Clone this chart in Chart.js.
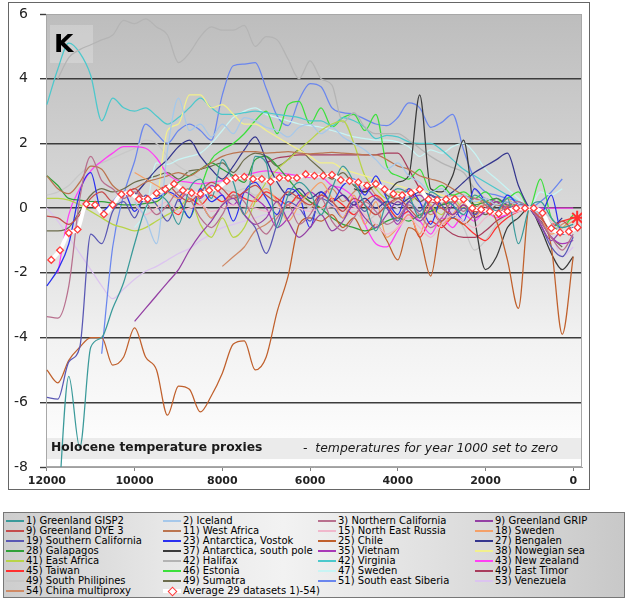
<!DOCTYPE html>
<html><head><meta charset="utf-8">
<script src="https://cdn.jsdelivr.net/npm/chart.js@4"></script>
<style>
html,body{margin:0;padding:0;background:#fff;}
#wrap{position:relative;width:628px;height:600px;font-family:"DejaVu Sans",sans-serif;overflow:hidden;}
#frame{position:absolute;left:8px;top:2px;width:580px;height:486px;border:1.5px solid #666;background:#fff;}
#c{position:absolute;left:0;top:0;}
#klabel{position:absolute;left:54px;top:29px;font:bold 25px "DejaVu Sans";color:#000;}
#cap1{position:absolute;left:51px;top:440px;font:bold 12.3px "DejaVu Sans";color:#1a1a1a;white-space:pre;}
#cap2{position:absolute;left:303px;top:440px;font:italic 12.4px "DejaVu Sans";color:#1a1a1a;white-space:pre;}
#legend{position:absolute;left:3px;top:512px;width:620px;height:84px;border:1px solid #777;
  background:linear-gradient(to right,#cdcdcd 0%,#e6e6e6 25%,#f2f2f2 45%,#dcdcdc 75%,#c8c8c8 100%);}
.lt{position:absolute;height:10px;font:10px "DejaVu Sans";line-height:10px;color:#000;white-space:nowrap;}
.sw{position:absolute;height:2px;}
.dm{position:absolute;width:5px;height:5px;background:#fff;border:1.2px solid #ff3b3b;transform:rotate(45deg);}
</style></head>
<body>
<div id="wrap">
  <div id="frame"></div>
  <canvas id="c" width="628" height="505"></canvas>
  <div id="klabel">K</div>
  <div id="cap1">Holocene temperature proxies</div>
  <div id="cap2">-  temperatures for year 1000 set to zero</div>
  <div id="legend"></div>
</div>
<script>
const _ = null;
const years = [12000,11750,11500,11250,11000,10750,10500,10250,10000,9750,9500,9250,9000,8750,8500,8250,8000,7750,7500,7250,7000,6750,6500,6250,6000,5750,5500,5250,5000,4750,4500,4250,4000,3750,3500,3250,3000,2750,2500,2250,2000,1750,1500,1250,1000,750,500,250,0];
const xTicks = [12000,10000,8000,6000,4000,2000,0];
const yTicks = [-8,-6,-4,-2,0,2,4,6];

const gisp2 = [_,-9.5,-5.2,-7.4,-4.3,-4.0,-3.1,-2.3,-1.1,0.0, 0.4,0.2,-0.5,0.6,0.9,0.3,1.5,0.8,-0.2,1.6, 1.4,-0.6,0.4,0.8,0.5,-0.2,0.6,1.3,0.8,0.1, -0.7,0.2,0.6,0.4,-0.3,0.5,0.3,0.1,-0.2,0.4, 0.2,-0.1,0.3,-1.1,0,0.2,-0.3,-0.6,-0.5];
const iceland = [_,_,_,_,_,_,_,_,0.2,-0.3, -1.1,1.8,3.4,2.4,2.6,2.2,2.6,2.3,2.8,2.7, 2.5,2.4,2.2,2.5,2.6,2.3,2.5,2.2,2.0,1.8, 1.5,1.2,1.4,1.0,0.8,0.5,0.6,0.3,0.4,0.2, 0.3,0.1,0.2,0.1,0,-0.2,-0.5,-0.7,_];
const nCal = [-3.35,-3.4,-2.4,0.3,1.6,0.85,0.6,0.3,0.5,0.2, -0.2,0.1,0.5,0.3,-0.3,-0.6,-0.2,0.4,0.2,-0.4, -0.8,-0.3,0.1,-0.5,-0.2,0.3,-0.4,-0.7,-0.3,0.2, -0.1,-0.5,-0.3,0.1,-0.2,-0.6,-0.3,0.2,-0.1,0.3, 0.1,-0.2,0.1,0.2,0,-0.4,-0.9,-1.3,-0.8];
const grip = [_,_,_,_,_,_,_,_,-3.5,-3.1, -2.7,-2.3,-1.9,-1.3,-0.8,-0.4,0.1,0.3,-0.2,-0.5, -0.3,0.2,-0.4,-0.9,-0.6,-0.2,-0.7,-0.4,0.1,-0.3, -0.6,-0.2,0.2,-0.1,-0.4,0.0,0.3,-0.2,0.1,-0.3, -0.1,0.2,0.0,0.1,0,-0.5,-1.0,-0.7,-0.9];
const dye3 = [-0.25,-0.3,-0.5,-0.2,0.3,0.5,0.2,0.4,0.6,0.3, 0.5,0.7,0.4,0.2,0.5,0.8,0.6,0.3,0.5,0.7, 0.4,0.2,0.5,0.3,0.1,0.4,0.2,-0.1,0.3,0.1, -0.2,0.1,0.3,0.0,-0.3,0.2,0.0,-0.2,0.1,-0.1, 0.0,0.2,-0.1,0.1,0,-0.3,-0.6,-0.4,-0.7];
const westAfrica = [1.0,0.6,0.45,0.8,1.3,1.2,0.7,0.5,0.6,0.8, 0.9,1.0,1.1,1.0,1.2,1.4,1.6,1.7,1.75,1.75, 1.7,1.72,1.75,1.7,1.68,1.7,1.72,1.7,1.68,1.65, 1.65,1.5,1.3,1.2,1.0,0.9,0.8,0.6,0.4,0.3, 0.2,0.1,0.05,0.02,0,_,_,_,_];
const neRussia = [_,_,_,_,_,_,_,_,0.1,-0.2, 0.0,0.2,-0.1,0.0,0.1,-0.1,0.0,0.1,0.05,0.0, -0.1,0.0,0.1,0.0,-0.1,0.0,0.05,-0.05,0.0,-0.2, -0.5,-0.8,-0.6,-0.3,-0.6,-0.9,-0.5,-0.2,-0.4,-0.6, -0.3,-0.1,-0.2,-0.1,0,-0.2,-0.4,-0.6,_];
const sweden18 = [_,_,_,_,_,_,_,_,1.1,0.9, 0.7,0.5,0.3,0.6,0.2,-0.3,0.1,0.4,-0.2,0.3, 0.6,0.2,-0.4,0.1,0.5,0.8,0.3,-0.3,0.4,-0.5, 0.2,-0.9,-0.6,-0.2,-0.8,0.1,-0.5,-0.2,0.2,-0.3, 0.1,-0.2,0.3,-0.1,0,-0.3,-0.8,-0.6,-0.4];
const sCal = [-5.85,-5.9,-4.75,-4.3,-0.8,-1.1,-0.1,0.2,-0.3,0.4, 0.1,-0.4,0.3,0.6,0.2,-0.3,0.1,0.4,-0.2,-0.6, -1.4,-0.5,0.2,0.0,-0.4,0.3,0.1,-0.3,0.2,-0.1, 0.3,0.0,-0.4,0.2,-0.1,0.4,0.1,-0.3,0.0,-0.2, 0.1,-0.1,0.2,0.0,0,-0.5,-1.2,-1.5,-0.9];
const vostok = [-2.4,-1.9,-1.1,0.5,1.1,-0.1,0.2,0.5,-0.1,0.3, 0.3,0.5,0.3,-0.3,0.6,0.2,0.4,-0.4,0.5,0.8, 0.3,-0.2,0.6,0.4,-0.6,0.5,0.2,0.7,0.9,0.4, 1.0,0.3,-0.2,0.6,0.2,-0.5,0.3,0.1,-0.4,0.6, 0.2,-0.1,0.4,0.1,0,-0.2,0.4,-0.8,-0.6];
const chile = [-5.0,-5.4,-4.7,-4.3,-4.0,-4.0,-4.85,-4.6,-3.7,-4.6, -5.0,-6.4,-5.5,-5.6,-6.3,-5.8,-5.1,-4.2,-4.1,-5.0, -4.6,-3.2,-2.1,-0.5,-0.3,-0.4,-0.2,-0.6,-0.3,-0.8, -0.5,-1.0,-1.6,-0.6,-0.9,-2.1,-0.4,-0.3,-0.5,-0.2, 0.1,-0.4,-1.6,-3.1,0,-0.2,-1.2,-3.9,-1.5];
const bengalen = [_,_,_,_,_,_,_,_,0.4,0.8, 1.2,1.5,1.9,2.1,1.6,1.2,0.9,1.3,1.8,2.2, 1.5,0.8,0.4,0.6,0.3,0.5,0.2,0.4,0.1,0.3, 0.0,0.2,0.1,0.3,0.5,0.4,0.3,0.5,0.8,1.1, 1.3,1.5,1.7,0.7,0,-0.4,-0.6,-0.3,_];
const galapagos = [1.0,0.7,0.3,0.25,0.2,0.2,0.15,0.1,0.1,0.15, 0.2,0.5,0.8,1.0,1.2,1.4,1.2,1.0,0.8,1.5, 1.6,1.3,0.9,0.5,0.2,0.0,-0.3,-0.5,-0.6,-0.7, -0.6,-0.4,-0.3,-0.4,-0.2,-0.1,0.1,0.2,0.3,0.1, 0.2,0.3,0.1,0.1,0,-0.2,-0.5,-0.8,-0.6];
const southPole = [_,_,_,_,_,_,_,_,_,_, _,_,_,_,_,_,_,_,_,_, _,_,_,_,_,_,_,_,0.6,0.5, 0.7,0.5,0.8,1.0,3.5,0.6,0.5,1.0,2.1,-0.3, -1.9,-1.5,-0.6,-0.3,0,-0.6,-1.4,-1.9,-1.5];
const vietnam = [_,_,_,_,_,_,_,_,_,_, _,_,0.2,0.5,0.3,0.7,0.4,0.1,0.5,0.3, 0.0,-0.6,-0.3,0.2,0.5,0.3,0.7,0.4,0.1,0.6, 0.3,0.0,-0.5,0.2,0.4,0.0,-0.4,0.1,0.3,-0.2, 0.0,0.3,0.1,-0.1,0,-0.4,-0.9,-1.1,-1.0];
const nowegian = [_,_,_,_,_,_,_,_,_,_, 0.0,2.4,2.6,3.5,3.5,3.1,3.2,2.9,2.6,2.6, 2.4,2.2,2.0,1.8,1.6,1.4,1.4,1.2,1.1,1.0, 0.9,0.8,0.7,0.6,0.5,0.5,0.4,0.3,0.3,0.2, 0.2,0.1,0.1,0.05,0,_,_,_,_];
const eastAfrica = [0.3,0.3,0.25,0.1,-0.1,-0.3,-0.5,-0.6,-0.7,-0.6, -0.4,-0.2,0.0,0.3,-0.5,-0.9,-0.3,-0.9,-0.6,0.2, 0.8,1.2,1.5,1.8,2.1,2.4,2.6,2.7,2.0,1.0, 0.6,0.3,0.5,0.2,0.4,0.1,-0.2,0.3,0.0,0.2, 0.1,-0.1,0.2,0.1,0,_,_,_,_];
const halifax = [_,4.0,4.65,4.9,5.05,5.2,5.35,5.8,5.7,5.85, 5.6,5.35,4.5,4.8,5.3,5.6,5.5,5.5,5.65,5.0, 5.3,5.2,4.6,4.0,4.55,4.0,3.8,2.65,2.95,2.5, 2.3,2.3,2.3,2.1,1.85,1.6,1.4,1.25,1.1,0.6, 0.3,0.2,0.1,0.05,0,_,_,_,_];
const virginia = [3.2,4.3,5.1,4.8,4.1,2.7,3.4,3.1,3.0,3.1, 2.85,2.6,2.8,3.1,3.4,3.1,2.9,2.9,2.95,3.0, 2.95,2.9,2.85,2.8,2.7,2.7,2.55,2.8,2.7,2.5, 2.15,2.25,2.2,2.05,2.0,2.0,1.8,1.5,1.2,1.0, 0.8,0.6,0.4,0.2,0,_,_,_,_];
const newZealand = [_,-2.0,-0.2,0.6,1.15,1.45,1.7,1.9,1.9,1.85, 1.55,1.05,0.85,0.8,0.75,0.8,0.85,0.9,1.0,1.1, 1.15,1.1,1.05,1.0,0.95,0.95,0.7,0.6,0.3,-0.5, -1.1,-1.2,-0.7,-0.2,-0.4,-0.8,-0.3,-0.6,-0.2,-0.4, -0.1,-0.3,-0.2,-0.1,0,0,0,0,0];
const taiwan = [_,_,_,_,_,_,_,_,_,_, _,0.1,-0.2,0.3,0.1,0.4,0.2,0.5,0.3,0.2, 0.5,0.3,0.1,0.4,0.2,0.0,0.3,0.1,-0.2,0.2, 0.4,0.1,-0.3,-0.1,-0.9,-0.4,-0.6,-0.3,-0.5,-0.8, -1.0,-0.6,-0.3,-0.1,0,-0.2,-0.5,-0.4,-0.3];
const estonia = [_,_,_,_,_,_,_,_,_,_, _,_,0.3,-0.3,0.6,1.5,1.8,2.0,2.3,2.7, 3.0,2.3,3.2,3.3,2.6,3.1,2.5,2.8,2.9,2.4, 2.9,1.3,1.0,0.9,1.2,0.5,0.7,0.4,0.5,0.3, 0.5,0.2,0.3,0.5,0,0.9,-0.3,-0.6,-0.2];
const sweden47 = [_,_,_,_,_,_,_,_,-0.6,-0.1, 1.4,1.35,1.5,1.6,1.7,2.0,2.4,2.8,3.0,3.1, 2.9,2.8,2.7,2.6,2.55,2.5,2.4,2.3,2.2,2.15, 2.1,2.1,2.05,1.9,1.6,1.8,1.7,1.9,2.0,1.7, 1.2,0.9,0.6,0.3,0,0.5,0.4,0.6,_];
const eastTimor = [_,_,_,_,_,_,_,_,_,_, _,_,_,_,_,_,_,_,_,_, 1.4,1.55,1.6,1.65,1.65,1.65,1.65,1.65,1.65,1.65, 1.65,1.7,1.7,1.2,0.6,0.0,-0.5,-0.8,-0.9,-0.9, -0.7,-0.4,-0.2,-0.1,0,_,_,_,_];
const sPhilipines = [0.4,0.5,0.7,1.05,1.3,1.4,1.55,1.7,1.85,2.1, 2.0,1.6,1.3,1.1,0.9,0.7,0.6,0.5,0.6,0.4, 0.5,0.3,0.4,0.2,0.0,-0.2,0.1,-0.3,-0.1,-0.4, -0.2,0.1,-0.3,0.2,-0.1,-0.6,-0.4,-0.2,-0.6,-1.3, -1.0,-0.5,-0.2,-0.1,0,-0.1,-0.3,_,_];
const sumatra = [-0.7,-0.7,-0.6,-0.1,0.4,0.6,0.5,0.6,0.8,0.9, 1.0,1.1,0.9,1.15,1.2,1.3,1.4,1.1,1.5,1.7, 1.6,1.3,1.5,1.8,1.5,1.2,0.9,1.1,0.7,0.5, 0.8,0.4,0.3,0.5,0.2,0.4,0.1,0.2,0.3,0.1, -0.2,0.1,0.2,0.1,0,-0.4,-0.9,-1.2,_];
const seSiberia = [_,_,_,_,_,-4.5,-1.2,0.4,1.45,2.6, 2.3,2.0,2.4,2.6,2.4,2.1,3.5,4.4,4.45,4.5, 3.7,2.85,2.55,3.35,3.85,3.75,3.1,2.95,2.9,2.75, 2.6,2.55,2.8,3.25,3.1,2.5,2.65,2.9,1.8,0.9, 0.5,0.4,0.3,0.2,0,0.2,0.5,0.9,_];
const venezuela = [0.0,-0.4,-0.9,-1.4,-1.9,-2.4,-2.8,-2.5,-2.2,-1.95, -1.8,-1.6,-1.4,-1.25,-1.0,-0.8,-0.6,-0.5,-0.4,-0.3, -0.2,-0.3,-0.1,-0.2,0.0,-0.1,0.1,-0.2,0.0,0.1, -0.1,0.2,0.0,-0.2,0.1,0.3,0.0,-0.1,0.2,0.0, -0.2,0.1,0.0,-0.1,0,-0.3,-0.8,-1.5,-1.2];
const china = [_,_,_,_,_,_,_,_,_,_, _,_,_,_,_,_,-1.8,-1.5,-1.2,-0.7, -0.5,-0.2,0.1,0.3,0.0,0.4,0.6,0.2,0.5,0.8, 0.4,0.1,0.3,0.6,0.2,-0.2,0.1,0.4,0.2,0.0, 0.3,0.1,0.2,0.1,0,-0.4,-0.7,-0.5,-0.3];

const avgYears = [11900,11700,11500,11300,11100,10900,10700,10500,10300,10100,9900,9700,9500,9300,9100,8900,8700,8500,8300,8100,7900,7700,7500,7300,7100,6900,6700,6500,6300,6100,5900,5700,5500,5300,5100,4900,4700,4500,4300,4100,3900,3700,3500,3300,3100,2900,2700,2500,2300,2100,1900,1700,1500,1300,1100,900,700,500,300,100,-100];
const avgValues = [-1.6,-1.3,-0.77,-0.66,0.13,0.1,-0.19,0.1,0.43,0.47,0.28,0.28,0.46,0.58,0.75,0.55,0.47,0.44,0.55,0.62,0.84,0.94,0.97,0.9,0.9,0.82,0.94,0.93,0.93,1.05,1.0,1.0,1.03,0.87,0.84,0.8,0.7,0.75,0.58,0.44,0.4,0.47,0.58,0.27,0.25,0.27,0.28,0.27,0.0,-0.04,-0.1,-0.17,-0.1,0,0,0,-0.15,-0.62,-0.75,-0.72,-0.6];
const endYears = [-90];
const endValues = [-0.3];

const series = [
  ["1) Greenland GISP2", gisp2, "#3a9a9a"],
  ["2) Iceland", iceland, "#a6c8ea"],
  ["3) Northern California", nCal, "#b8708e"],
  ["9) Greenland GRIP", grip, "#9440a4"],
  ["9) Greenland DYE 3", dye3, "#c44c4c"],
  ["11) West Africa", westAfrica, "#bb7550"],
  ["15) North East Russia", neRussia, "#f0b8cc"],
  ["18) Sweden", sweden18, "#f4a068"],
  ["19) Southern California", sCal, "#5a58b4"],
  ["23) Antarctica, Vostok", vostok, "#2a30f0"],
  ["25) Chile", chile, "#c0602c"],
  ["27) Bengalen", bengalen, "#35368e"],
  ["28) Galapagos", galapagos, "#30a038"],
  ["37) Antarctica, south pole", southPole, "#3a3a3a"],
  ["35) Vietnam", vietnam, "#a838b8"],
  ["38) Nowegian sea", nowegian, "#f2f08c"],
  ["41) East Africa", eastAfrica, "#b8d448"],
  ["42) Halifax", halifax, "#b4b4b4"],
  ["42) Virginia", virginia, "#4cc8cc"],
  ["43) New zealand", newZealand, "#ff40f4"],
  ["45) Taiwan", taiwan, "#ff3030"],
  ["46) Estonia", estonia, "#3ce03c"],
  ["47) Sweden", sweden47, "#c8f4f4"],
  ["49) East Timor", eastTimor, "#a83c5c"],
  ["49) South Philipines", sPhilipines, "#c8c8c8"],
  ["49) Sumatra", sumatra, "#6c6c4c"],
  ["51) South east Siberia", seSiberia, "#6a86ee"],
  ["53) Venezuela", venezuela, "#dcc4f0"],
  ["54) China multiproxy", china, "#d08a66"]
];
const avgLabel = "Average 29 datasets 1)-54)";

const datasets = series.map(([label, vals, color]) => ({
  label, data: years.map((x, i) => ({x, y: vals[i]})),
  borderColor: color, backgroundColor: color, borderWidth: 1.25,
  pointRadius: 0, cubicInterpolationMode: 'monotone', spanGaps: false, order: 1
}));
datasets.push({
  label: avgLabel, data: avgYears.map((x, i) => ({x, y: avgValues[i]})),
  borderColor: '#ffffff', borderWidth: 4, cubicInterpolationMode: 'monotone',
  pointStyle: 'rectRot', pointRadius: 3.4, pointBackgroundColor: '#ffffff',
  pointBorderColor: '#ff3b3b', pointBorderWidth: 1.3, order: -1
});
datasets.push({
  label: 'end', data: endYears.map((x, i) => ({x, y: endValues[i]})),
  showLine: false, pointStyle: 'star', pointRadius: 7, pointBorderColor: '#ff3030',
  pointBorderWidth: 2, pointBackgroundColor: '#ff3030', order: -2
});

const bgPlugin = {
  id: 'bg',
  beforeDraw(chart) {
    const {ctx, chartArea: a} = chart;
    const g = ctx.createLinearGradient(0, a.top, 0, a.bottom);
    g.addColorStop(0, '#bdbdbd'); g.addColorStop(0.42, '#d8d8d8');
    g.addColorStop(0.72, '#f2f2f2'); g.addColorStop(1, '#ffffff');
    ctx.save();
    ctx.fillStyle = g; ctx.fillRect(a.left, a.top, a.right - a.left, a.bottom - a.top);
    ctx.fillStyle = 'rgba(255,255,255,0.22)'; ctx.fillRect(a.left + 4, a.top + 11, 43, 38);
    ctx.fillStyle = '#ebebeb'; ctx.fillRect(a.left + 1, a.bottom - 29, a.right - a.left - 2, 21);
    ctx.restore();
  },
  beforeDatasetsDraw(chart) {
    const {ctx, chartArea: a} = chart;
    ctx.save(); ctx.strokeStyle = '#a8a8a8'; ctx.lineWidth = 1;
    ctx.strokeRect(a.left + 0.5, a.top + 0.5, a.right - a.left - 1, a.bottom - a.top - 1);
    ctx.restore();
  }
};

const edge = v => v === 6 || v === -8;
const chart = new Chart(document.getElementById('c'), {
  type: 'line',
  data: { datasets },
  plugins: [bgPlugin],
  options: {
    responsive: false, animation: false,
    layout: { padding: { left: 10, top: 14, right: 46, bottom: 10 } },
    plugins: { legend: { display: false }, tooltip: { enabled: false } },
    scales: {
      x: {
        type: 'linear', reverse: true, min: -200, max: 12020,
        afterBuildTicks: ax => { ax.ticks = xTicks.map(v => ({value: v})); },
        afterFit: s => { s.height = 28; s.paddingLeft = 0; s.paddingRight = 0; },
        ticks: { callback: v => String(v), font: {family: 'DejaVu Sans', size: 11, weight: 'bold'}, color: '#222', padding: 4, maxRotation: 0, includeBounds: false },
        grid: { drawOnChartArea: false, drawTicks: true, tickLength: 4, color: '#808080' },
        border: { color: '#a0a0a0' }
      },
      y: {
        min: -8, max: 6,
        afterBuildTicks: ax => { ax.ticks = yTicks.map(v => ({value: v})); },
        afterFit: s => { s.width = 36; s.paddingTop = 0; s.paddingBottom = 0; },
        ticks: { font: {family: 'DejaVu Sans', size: 14}, color: '#222', padding: 12 },
        grid: {
          color: c => (c.tick && edge(c.tick.value)) ? '#a8a8a8' : '#3c3c3c',
          lineWidth: c => (c.tick && edge(c.tick.value)) ? 1 : 1.4,
          tickLength: 6, tickColor: '#3c3c3c', tickWidth: 1.4
        },
        border: { color: '#a0a0a0' }
      }
    }
  }
});

// HTML legend, row-major in 4 columns
const legend = document.getElementById('legend');
const colLine = [2, 159, 314, 471];
const items = series.map(s => ({label: s[0], color: s[2]})).concat([{label: avgLabel, avg: true}]);
items.forEach((it, k) => {
  const col = k % 4, row = Math.floor(k / 4);
  const cy = 8 + row * 10;
  const x0 = colLine[col];
  const sw = document.createElement('div');
  sw.className = 'sw';
  sw.style.left = x0 + 'px';
  sw.style.width = '18px';
  if (it.avg) {
    sw.style.top = (cy - 2) + 'px'; sw.style.height = '4px'; sw.style.background = '#ffffff';
    legend.appendChild(sw);
    const dm = document.createElement('div');
    dm.className = 'dm'; dm.style.left = (x0 + 6) + 'px'; dm.style.top = (cy - 3.5) + 'px';
    legend.appendChild(dm);
  } else {
    sw.style.top = (cy - 1) + 'px'; sw.style.background = it.color;
    legend.appendChild(sw);
  }
  const t = document.createElement('div');
  t.className = 'lt'; t.style.left = (x0 + 20) + 'px'; t.style.top = (cy - 5) + 'px';
  t.textContent = it.label;
  legend.appendChild(t);
});
</script>
</body></html>
